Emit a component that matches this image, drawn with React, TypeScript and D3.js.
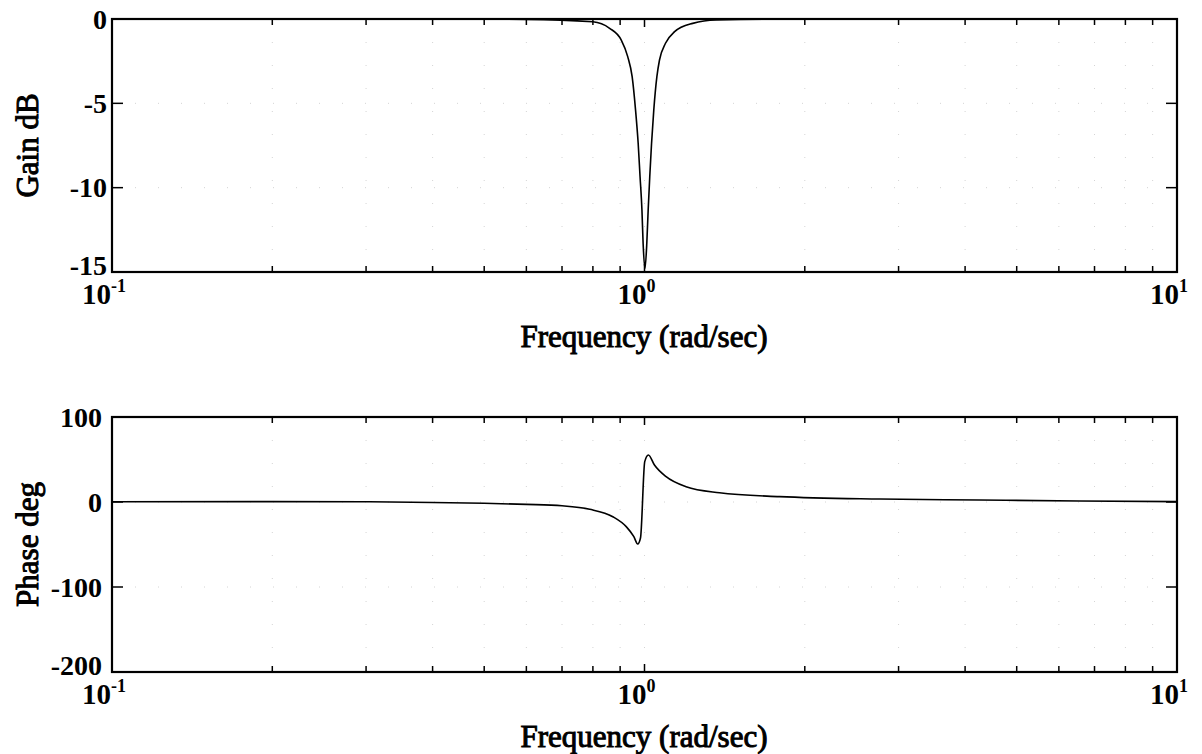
import React from "react";
import * as d3 from "d3";

// Notch filter frequency response (Bode plot)
const gainFreq = [0.1, 0.3, 0.6, 0.8, 0.86, 0.904, 0.93, 0.948, 0.962, 0.973, 0.981, 0.989, 0.994, 1.002, 1.01, 1.016, 1.023, 1.031, 1.041, 1.055, 1.067, 1.095, 1.139, 1.232, 1.363, 2, 10];
const gainDb = [0, 0, -0.02, -0.16, -0.55, -1.24, -2.23, -3.42, -5.39, -7.37, -9.35, -11.32, -13.3, -14.8, -13.3, -11.32, -9.35, -7.37, -5.39, -3.42, -2.43, -1.44, -0.75, -0.26, -0.06, 0, 0];

const phaseFreq = [0.1, 0.2, 0.3, 0.4, 0.5, 0.6, 0.7, 0.789, 0.872, 0.924, 0.955, 0.971, 0.983, 1.001, 1.017, 1.044, 1.098, 1.197, 1.383, 1.793, 2.763, 4.257, 6.55, 10];
const phaseDeg = [0.3, 0.4, 0.3, -0.5, -1.5, -2.8, -4.5, -8.6, -17.3, -29, -40.8, -49.4, -42, 47.5, 55.3, 43.5, 29.8, 18, 10.9, 6.3, 3.5, 2.4, 1.2, 0.4];

const gainTicks = [0, -5, -10, -15];
const phaseTicks = [100, 0, -100, -200];
const decadeExps = [-1, 0, 1];

const W = 1202;
const H = 754;
const X0 = 112;
const X1 = 1177;
const FONT = "'Liberation Serif', 'Times New Roman', serif";

const x = d3.scaleLog().domain([0.1, 10]).range([X0, X1]);

// minor + major log tick positions across both decades
const logTicks: number[] = [];
for (const base of [0.1, 1]) {
  for (let k = 1; k <= 9; k++) logTicks.push(base * k);
}
logTicks.push(10);
const isDecade = (t: number) => [0.1, 1, 10].includes(t);

type PanelProps = {
  top: number;
  bottom: number;
  domain: [number, number];
  ticks: number[];
  freqs: number[];
  values: number[];
  ylabel: string;
  labelRight: number;
};

function Panel({ top, bottom, domain, ticks, freqs, values, ylabel, labelRight }: PanelProps) {
  const y = d3.scaleLinear().domain(domain).range([bottom, top]);
  const pts = freqs.map((f, i) => [f, values[i]] as [number, number]);
  const line = d3
    .line<[number, number]>()
    .x((d) => x(d[0]))
    .y((d) => y(d[1]))
    .curve(d3.curveMonotoneX);
  const midY = (top + bottom) / 2;
  return (
    <g>
      {/* faint dotted grid */}
      <g stroke="#d4d4d4" strokeWidth={1} strokeDasharray="1,22">
        {logTicks.slice(1, -1).map((t) => (
          <line key={"gx" + t} x1={x(t)} x2={x(t)} y1={top} y2={bottom} />
        ))}
        {ticks.slice(1, -1).map((t) => (
          <line key={"gy" + t} x1={X0} x2={X1} y1={y(t)} y2={y(t)} />
        ))}
      </g>
      {/* inward ticks on all four sides */}
      <g stroke="#000" strokeWidth={1.5}>
        {logTicks.map((t) => {
          const len = isDecade(t) ? 8 : 6;
          return (
            <g key={"t" + t}>
              <line x1={x(t)} x2={x(t)} y1={bottom} y2={bottom - len} />
              <line x1={x(t)} x2={x(t)} y1={top} y2={top + len} />
            </g>
          );
        })}
        {ticks.map((t) => (
          <g key={"ty" + t}>
            <line x1={X0} x2={X0 + 11} y1={y(t)} y2={y(t)} />
            <line x1={X1} x2={X1 - 11} y1={y(t)} y2={y(t)} />
          </g>
        ))}
      </g>
      {/* response curve */}
      <path d={line(pts) ?? ""} fill="none" stroke="#000" strokeWidth={1.6} />
      {/* frame */}
      <rect x={X0} y={top} width={X1 - X0} height={bottom - top} fill="none" stroke="#000" strokeWidth={2.2} />
      {/* y tick labels */}
      <g fontFamily={FONT} fontWeight="bold" fontSize={28} textAnchor="end">
        {ticks.map((t, i) => (
          <text key={"ly" + t} x={labelRight} y={y(t)} dy={i === ticks.length - 1 ? "0.12em" : "0.35em"}>
            {t}
          </text>
        ))}
      </g>
      {/* decade labels */}
      <g fontFamily={FONT} fontWeight="bold" fontSize={29} textAnchor="middle">
        {decadeExps.map((e) => (
          <text key={"lx" + e} x={x(Math.pow(10, e)) - 8} y={bottom + 32}>
            10
            <tspan dy={-12} fontSize={18}>
              {e}
            </tspan>
          </text>
        ))}
      </g>
      <text
        x={644}
        y={bottom + 75}
        fontFamily={FONT}
        fontSize={31}
        stroke="#000"
        strokeWidth={1}
        textAnchor="middle"
      >
        Frequency (rad/sec)
      </text>
      <text
        transform={`translate(38, ${midY}) rotate(-90)`}
        fontFamily={FONT}
        fontSize={31}
        stroke="#000"
        strokeWidth={1}
        textAnchor="middle"
      >
        {ylabel}
      </text>
    </g>
  );
}

export default function App() {
  return (
    <svg
      width={W}
      height={H}
      style={{ position: "absolute", left: 0, top: 0, background: "#fff" }}
    >
      <rect width={W} height={H} fill="#fff" />
      <Panel
        top={19}
        bottom={272}
        domain={[-15, 0]}
        ticks={gainTicks}
        freqs={gainFreq}
        values={gainDb}
        ylabel="Gain dB"
        labelRight={107}
      />
      <Panel
        top={417}
        bottom={672}
        domain={[-200, 100]}
        ticks={phaseTicks}
        freqs={phaseFreq}
        values={phaseDeg}
        ylabel="Phase deg"
        labelRight={102}
      />
    </svg>
  );
}
